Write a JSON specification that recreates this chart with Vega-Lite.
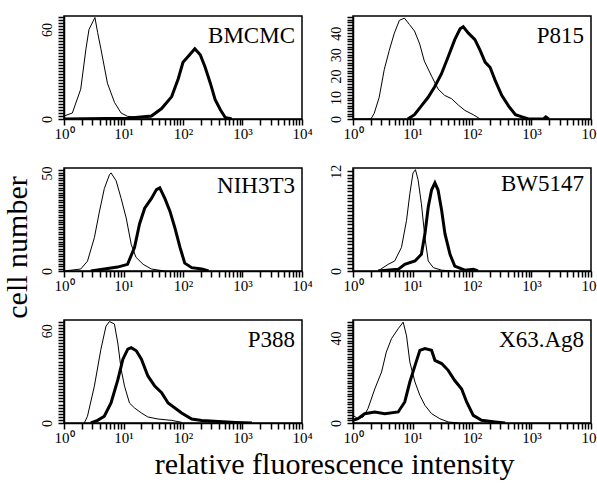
{
  "$schema": "https://vega.github.io/schema/vega-lite/v6.json",
  "background": "white",
  "padding": {"left": 3, "top": 15, "right": 5, "bottom": 5},
  "config": {
    "view": {"stroke": "black", "strokeWidth": 1.5},
    "axis": {"grid": false, "domainColor": "black", "domainWidth": 1.5, "ticks": true, "tickSize": 6, "tickColor": "black", "tickWidth": 1.5, "tickOpacity": 1, "labelColor": "black", "labelFont": "Liberation Serif", "title": null},
    "axisX": {"labelFontSize": 15, "labelPadding": 1, "labelFlush": false, "labelOverlap": false},
    "axisY": {"labelFontSize": 14, "labelAngle": 270, "labelAlign": "center", "labelBaseline": "bottom", "labelPadding": 4, "labelOverlap": false},
    "title": {"font": "Liberation Serif", "fontWeight": "normal", "color": "black"}
  },
  "datasets": {
    "bmcmc": [
      {"x": 1.0, "y": 2, "s": "control"}, {"x": 1.38, "y": 4, "s": "control"}, {"x": 1.91, "y": 20, "s": "control"}, {"x": 2.34, "y": 47, "s": "control"}, {"x": 2.63, "y": 60, "s": "control"}, {"x": 3.31, "y": 68, "s": "control"}, {"x": 3.67, "y": 58, "s": "control"}, {"x": 4.17, "y": 47, "s": "control"}, {"x": 5.37, "y": 24, "s": "control"}, {"x": 7.08, "y": 11, "s": "control"}, {"x": 9.12, "y": 4, "s": "control"}, {"x": 11.7, "y": 1.8, "s": "control"}, {"x": 20, "y": 1, "s": "control"}, {"x": 29.5, "y": 0.5, "s": "control"},
      {"x": 1.0, "y": 0, "s": "stained"}, {"x": 11.7, "y": 0.5, "s": "stained"}, {"x": 29.5, "y": 2, "s": "stained"}, {"x": 43.7, "y": 7, "s": "stained"}, {"x": 64.6, "y": 15, "s": "stained"}, {"x": 83.2, "y": 27, "s": "stained"}, {"x": 100, "y": 38, "s": "stained"}, {"x": 123, "y": 42, "s": "stained"}, {"x": 158, "y": 47, "s": "stained"}, {"x": 195, "y": 43, "s": "stained"}, {"x": 234, "y": 35, "s": "stained"}, {"x": 288, "y": 24, "s": "stained"}, {"x": 347, "y": 13, "s": "stained"}, {"x": 427, "y": 6, "s": "stained"}, {"x": 513, "y": 1, "s": "stained"}, {"x": 661, "y": 0, "s": "stained"}
    ],
    "p815": [
      {"x": 1.0, "y": 0, "s": "control"}, {"x": 2.0, "y": 0, "s": "control"}, {"x": 2.27, "y": 2.6, "s": "control"}, {"x": 2.75, "y": 10, "s": "control"}, {"x": 3.35, "y": 23, "s": "control"}, {"x": 4.07, "y": 32, "s": "control"}, {"x": 4.95, "y": 40, "s": "control"}, {"x": 6.03, "y": 46, "s": "control"}, {"x": 7.31, "y": 47, "s": "control"}, {"x": 8.91, "y": 44, "s": "control"}, {"x": 10.8, "y": 41, "s": "control"}, {"x": 13.2, "y": 35, "s": "control"}, {"x": 15.8, "y": 27, "s": "control"}, {"x": 20.9, "y": 20, "s": "control"}, {"x": 26.9, "y": 14, "s": "control"}, {"x": 34.7, "y": 11, "s": "control"}, {"x": 45.2, "y": 9.5, "s": "control"}, {"x": 58.9, "y": 6.5, "s": "control"}, {"x": 75.9, "y": 4, "s": "control"}, {"x": 105, "y": 2, "s": "control"}, {"x": 138, "y": 0, "s": "control"},
      {"x": 8.32, "y": 0, "s": "stained"}, {"x": 10.8, "y": 2, "s": "stained"}, {"x": 14.0, "y": 6, "s": "stained"}, {"x": 18.2, "y": 10, "s": "stained"}, {"x": 23.6, "y": 15, "s": "stained"}, {"x": 30.6, "y": 21, "s": "stained"}, {"x": 39.8, "y": 29, "s": "stained"}, {"x": 51.3, "y": 37, "s": "stained"}, {"x": 63.1, "y": 42, "s": "stained"}, {"x": 71.3, "y": 43, "s": "stained"}, {"x": 87.1, "y": 40, "s": "stained"}, {"x": 112, "y": 37, "s": "stained"}, {"x": 137, "y": 32, "s": "stained"}, {"x": 166, "y": 26.5, "s": "stained"}, {"x": 202, "y": 24, "s": "stained"}, {"x": 245, "y": 18, "s": "stained"}, {"x": 316, "y": 11, "s": "stained"}, {"x": 413, "y": 6, "s": "stained"}, {"x": 537, "y": 2, "s": "stained"}, {"x": 692, "y": 1, "s": "stained"}, {"x": 891, "y": 0, "s": "stained"}, {"x": 1585, "y": 0, "s": "stained"}, {"x": 1738, "y": 1, "s": "stained"}, {"x": 1950, "y": 0, "s": "stained"}
    ],
    "nih3t3": [
      {"x": 1.0, "y": 0, "s": "control"}, {"x": 1.91, "y": 1, "s": "control"}, {"x": 2.48, "y": 5, "s": "control"}, {"x": 3.24, "y": 17, "s": "control"}, {"x": 3.92, "y": 30, "s": "control"}, {"x": 4.76, "y": 42, "s": "control"}, {"x": 5.79, "y": 49, "s": "control"}, {"x": 6.17, "y": 50, "s": "control"}, {"x": 7.52, "y": 46, "s": "control"}, {"x": 9.12, "y": 37, "s": "control"}, {"x": 11.1, "y": 27, "s": "control"}, {"x": 13.5, "y": 13.5, "s": "control"}, {"x": 16.2, "y": 7, "s": "control"}, {"x": 21.4, "y": 3.4, "s": "control"}, {"x": 29.5, "y": 1, "s": "control"}, {"x": 49, "y": 0, "s": "control"},
      {"x": 2.82, "y": 0, "s": "stained"}, {"x": 4.76, "y": 1, "s": "stained"}, {"x": 7.94, "y": 2, "s": "stained"}, {"x": 11.7, "y": 3.4, "s": "stained"}, {"x": 15.3, "y": 12, "s": "stained"}, {"x": 18.6, "y": 24, "s": "stained"}, {"x": 22.7, "y": 32, "s": "stained"}, {"x": 29.5, "y": 37, "s": "stained"}, {"x": 35.8, "y": 41.5, "s": "stained"}, {"x": 40.7, "y": 42.4, "s": "stained"}, {"x": 49.5, "y": 37, "s": "stained"}, {"x": 60.3, "y": 30.5, "s": "stained"}, {"x": 73.1, "y": 22, "s": "stained"}, {"x": 89.1, "y": 12, "s": "stained"}, {"x": 107, "y": 4, "s": "stained"}, {"x": 140, "y": 1.7, "s": "stained"}, {"x": 207, "y": 1, "s": "stained"}, {"x": 269, "y": 0, "s": "stained"}
    ],
    "bw5147": [
      {"x": 2.63, "y": 0, "s": "control"}, {"x": 3.89, "y": 0.8, "s": "control"}, {"x": 5.01, "y": 1.2, "s": "control"}, {"x": 6.53, "y": 2.85, "s": "control"}, {"x": 7.94, "y": 6.1, "s": "control"}, {"x": 9.02, "y": 9.3, "s": "control"}, {"x": 10.2, "y": 11.8, "s": "control"}, {"x": 11.2, "y": 12.2, "s": "control"}, {"x": 12.4, "y": 11, "s": "control"}, {"x": 14.1, "y": 8.1, "s": "control"}, {"x": 16.2, "y": 4, "s": "control"}, {"x": 18.4, "y": 1.2, "s": "control"}, {"x": 22.4, "y": 0.4, "s": "control"}, {"x": 30.9, "y": 0.1, "s": "control"}, {"x": 45.7, "y": 0, "s": "control"},
      {"x": 2.63, "y": 0, "s": "stained"}, {"x": 5.75, "y": 0.2, "s": "stained"}, {"x": 7.41, "y": 0.8, "s": "stained"}, {"x": 11.0, "y": 1.2, "s": "stained"}, {"x": 14.1, "y": 2, "s": "stained"}, {"x": 16.2, "y": 4.5, "s": "stained"}, {"x": 18.4, "y": 7.7, "s": "stained"}, {"x": 20.9, "y": 9.75, "s": "stained"}, {"x": 23.8, "y": 10.6, "s": "stained"}, {"x": 26.9, "y": 9.75, "s": "stained"}, {"x": 30.9, "y": 7.3, "s": "stained"}, {"x": 35.1, "y": 4.5, "s": "stained"}, {"x": 42.7, "y": 2, "s": "stained"}, {"x": 51.3, "y": 0.6, "s": "stained"}, {"x": 75.9, "y": 0.1, "s": "stained"}, {"x": 105, "y": 0.2, "s": "stained"}, {"x": 126, "y": 0, "s": "stained"}
    ],
    "p388": [
      {"x": 2.19, "y": 0, "s": "control"}, {"x": 2.48, "y": 4.4, "s": "control"}, {"x": 3.24, "y": 24, "s": "control"}, {"x": 4.17, "y": 48, "s": "control"}, {"x": 5.08, "y": 63, "s": "control"}, {"x": 5.79, "y": 66, "s": "control"}, {"x": 7.03, "y": 64.4, "s": "control"}, {"x": 8.02, "y": 52, "s": "control"}, {"x": 9.12, "y": 35, "s": "control"}, {"x": 10.4, "y": 24, "s": "control"}, {"x": 12.6, "y": 13, "s": "control"}, {"x": 15.3, "y": 9.8, "s": "control"}, {"x": 20, "y": 6.5, "s": "control"}, {"x": 25.7, "y": 3.9, "s": "control"}, {"x": 38, "y": 2.6, "s": "control"}, {"x": 64.6, "y": 1.7, "s": "control"}, {"x": 95.5, "y": 0.4, "s": "control"},
      {"x": 2.83, "y": 0, "s": "stained"}, {"x": 3.67, "y": 1.7, "s": "stained"}, {"x": 4.76, "y": 4.4, "s": "stained"}, {"x": 6.17, "y": 13, "s": "stained"}, {"x": 8.02, "y": 28, "s": "stained"}, {"x": 9.77, "y": 41.5, "s": "stained"}, {"x": 11.8, "y": 48, "s": "stained"}, {"x": 13.5, "y": 49, "s": "stained"}, {"x": 16.4, "y": 47, "s": "stained"}, {"x": 20, "y": 41.5, "s": "stained"}, {"x": 25.7, "y": 30.6, "s": "stained"}, {"x": 33.5, "y": 24, "s": "stained"}, {"x": 43.7, "y": 19.7, "s": "stained"}, {"x": 56.2, "y": 13, "s": "stained"}, {"x": 73.1, "y": 9.8, "s": "stained"}, {"x": 94.8, "y": 6.5, "s": "stained"}, {"x": 140, "y": 2.6, "s": "stained"}, {"x": 207, "y": 1.7, "s": "stained"}, {"x": 398, "y": 1, "s": "stained"}, {"x": 759, "y": 0.4, "s": "stained"}, {"x": 1445, "y": 0, "s": "stained"}
    ],
    "x63": [
      {"x": 1.0, "y": 3.6, "s": "control"}, {"x": 1.21, "y": 2, "s": "control"}, {"x": 1.48, "y": 2.8, "s": "control"}, {"x": 1.78, "y": 6.7, "s": "control"}, {"x": 2.32, "y": 16, "s": "control"}, {"x": 3.02, "y": 24, "s": "control"}, {"x": 3.63, "y": 33.4, "s": "control"}, {"x": 4.43, "y": 39.7, "s": "control"}, {"x": 5.75, "y": 44.4, "s": "control"}, {"x": 6.97, "y": 47.5, "s": "control"}, {"x": 7.94, "y": 41, "s": "control"}, {"x": 9.02, "y": 28.7, "s": "control"}, {"x": 11.0, "y": 19.3, "s": "control"}, {"x": 13.3, "y": 13, "s": "control"}, {"x": 16.2, "y": 8.3, "s": "control"}, {"x": 20.9, "y": 4.4, "s": "control"}, {"x": 28.8, "y": 2, "s": "control"}, {"x": 39.8, "y": 0.5, "s": "control"}, {"x": 58.9, "y": 0, "s": "control"},
      {"x": 1.0, "y": 1.3, "s": "stained"}, {"x": 1.21, "y": 2, "s": "stained"}, {"x": 1.57, "y": 4.4, "s": "stained"}, {"x": 2.32, "y": 5.2, "s": "stained"}, {"x": 3.42, "y": 4.4, "s": "stained"}, {"x": 5.75, "y": 5.2, "s": "stained"}, {"x": 7.41, "y": 9.9, "s": "stained"}, {"x": 9.02, "y": 19.3, "s": "stained"}, {"x": 11.0, "y": 27, "s": "stained"}, {"x": 13.3, "y": 34.2, "s": "stained"}, {"x": 16.2, "y": 35, "s": "stained"}, {"x": 20.9, "y": 34.2, "s": "stained"}, {"x": 23.8, "y": 29.5, "s": "stained"}, {"x": 30.9, "y": 28, "s": "stained"}, {"x": 39.8, "y": 24.8, "s": "stained"}, {"x": 51.3, "y": 20, "s": "stained"}, {"x": 67, "y": 16, "s": "stained"}, {"x": 81.3, "y": 9.9, "s": "stained"}, {"x": 105, "y": 3.6, "s": "stained"}, {"x": 145, "y": 1.3, "s": "stained"}, {"x": 245, "y": 0.5, "s": "stained"}, {"x": 360, "y": 0, "s": "stained"}
    ]
  },
  "title": {"text": "cell number", "orient": "left", "anchor": "middle", "fontSize": 30, "offset": 6},
  "vconcat": [
    {
      "title": {"text": "relative fluorescence intensity", "orient": "bottom", "anchor": "middle", "fontSize": 30, "offset": 4, "dx": 14},
      "columns": 2,
      "spacing": {"row": 49, "column": 51},
      "bounds": "flush",
      "concat": [
        {
          "width": 238, "height": 103,
          "data": {"name": "bmcmc"},
          "title": {"text": "BMCMC", "anchor": "end", "frame": "group", "orient": "top", "baseline": "top", "offset": -32, "dx": -7, "fontSize": 23},
          "mark": {"type": "line", "color": "black", "clip": true},
          "encoding": {
            "x": {"field": "x", "type": "quantitative", "scale": {"type": "log", "domain": [1, 10000]}, "axis": {"values": [1,2,3,4,5,6,7,8,9,10,20,30,40,50,60,70,80,90,100,200,300,400,500,600,700,800,900,1000,2000,3000,4000,5000,6000,7000,8000,9000,10000], "labelExpr": "indexof([1,10,100,1000,10000], datum.value) >= 0 ? '10' + ['⁰','¹','²','³','⁴'][round(log(datum.value)/LN10)] : ''"}},
            "y": {"field": "y", "type": "quantitative", "scale": {"domain": [0, 69], "nice": false}, "axis": {"values": [0,2,4,6,8,10,12,14,16,18,20,22,24,26,28,30,32,34,36,38,40,42,44,46,48,50,52,54,56,58,60,62,64,66,68], "labelExpr": "indexof([0,60], datum.value) >= 0 ? '' + datum.value : ''"}},
            "detail": {"field": "s"},
            "strokeWidth": {"field": "s", "type": "ordinal", "scale": {"domain": ["control", "stained"], "range": [1, 3]}, "legend": null}
          }
        },
        {
          "width": 238, "height": 103,
          "data": {"name": "p815"},
          "title": {"text": "P815", "anchor": "end", "frame": "group", "orient": "top", "baseline": "top", "offset": -32, "dx": -7, "fontSize": 23},
          "mark": {"type": "line", "color": "black", "clip": true},
          "encoding": {
            "x": {"field": "x", "type": "quantitative", "scale": {"type": "log", "domain": [1, 10000]}, "axis": {"values": [1,2,3,4,5,6,7,8,9,10,20,30,40,50,60,70,80,90,100,200,300,400,500,600,700,800,900,1000,2000,3000,4000,5000,6000,7000,8000,9000,10000], "labelExpr": "indexof([1,10,100,1000,10000], datum.value) >= 0 ? '10' + ['⁰','¹','²','³','⁴'][round(log(datum.value)/LN10)] : ''"}},
            "y": {"field": "y", "type": "quantitative", "scale": {"domain": [0, 48], "nice": false}, "axis": {"values": [0,1.25,2.5,3.75,5,6.25,7.5,8.75,10,11.25,12.5,13.75,15,16.25,17.5,18.75,20,21.25,22.5,23.75,25,26.25,27.5,28.75,30,31.25,32.5,33.75,35,36.25,37.5,38.75,40,41.25,42.5,43.75,45,46.25,47.5], "labelExpr": "indexof([0,10,20,30,40], datum.value) >= 0 ? '' + datum.value : ''"}},
            "detail": {"field": "s"},
            "strokeWidth": {"field": "s", "type": "ordinal", "scale": {"domain": ["control", "stained"], "range": [1, 3]}, "legend": null}
          }
        },
        {
          "width": 238, "height": 103,
          "data": {"name": "nih3t3"},
          "title": {"text": "NIH3T3", "anchor": "end", "frame": "group", "orient": "top", "baseline": "top", "offset": -32, "dx": -7, "fontSize": 23},
          "mark": {"type": "line", "color": "black", "clip": true},
          "encoding": {
            "x": {"field": "x", "type": "quantitative", "scale": {"type": "log", "domain": [1, 10000]}, "axis": {"values": [1,2,3,4,5,6,7,8,9,10,20,30,40,50,60,70,80,90,100,200,300,400,500,600,700,800,900,1000,2000,3000,4000,5000,6000,7000,8000,9000,10000], "labelExpr": "indexof([1,10,100,1000,10000], datum.value) >= 0 ? '10' + ['⁰','¹','²','³','⁴'][round(log(datum.value)/LN10)] : ''"}},
            "y": {"field": "y", "type": "quantitative", "scale": {"domain": [0, 52.5], "nice": false}, "axis": {"values": [0,1.25,2.5,3.75,5,6.25,7.5,8.75,10,11.25,12.5,13.75,15,16.25,17.5,18.75,20,21.25,22.5,23.75,25,26.25,27.5,28.75,30,31.25,32.5,33.75,35,36.25,37.5,38.75,40,41.25,42.5,43.75,45,46.25,47.5,48.75,50,51.25], "labelExpr": "indexof([0,50], datum.value) >= 0 ? '' + datum.value : ''"}},
            "detail": {"field": "s"},
            "strokeWidth": {"field": "s", "type": "ordinal", "scale": {"domain": ["control", "stained"], "range": [1, 3]}, "legend": null}
          }
        },
        {
          "width": 238, "height": 103,
          "data": {"name": "bw5147"},
          "title": {"text": "BW5147", "anchor": "end", "frame": "group", "orient": "top", "baseline": "top", "offset": -32, "dx": -7, "fontSize": 23},
          "mark": {"type": "line", "color": "black", "clip": true},
          "encoding": {
            "x": {"field": "x", "type": "quantitative", "scale": {"type": "log", "domain": [1, 10000]}, "axis": {"values": [1,2,3,4,5,6,7,8,9,10,20,30,40,50,60,70,80,90,100,200,300,400,500,600,700,800,900,1000,2000,3000,4000,5000,6000,7000,8000,9000,10000], "labelExpr": "indexof([1,10,100,1000,10000], datum.value) >= 0 ? '10' + ['⁰','¹','²','³','⁴'][round(log(datum.value)/LN10)] : ''"}},
            "y": {"field": "y", "type": "quantitative", "scale": {"domain": [0, 12.4], "nice": false}, "axis": {"values": [0,0.4,0.8,1.2,1.6,2,2.4,2.8,3.2,3.6,4,4.4,4.8,5.2,5.6,6,6.4,6.8,7.2,7.6,8,8.4,8.8,9.2,9.6,10,10.4,10.8,11.2,11.6,12], "labelExpr": "indexof([0,12], datum.value) >= 0 ? '' + datum.value : ''"}},
            "detail": {"field": "s"},
            "strokeWidth": {"field": "s", "type": "ordinal", "scale": {"domain": ["control", "stained"], "range": [1, 3]}, "legend": null}
          }
        },
        {
          "width": 238, "height": 103,
          "data": {"name": "p388"},
          "title": {"text": "P388", "anchor": "end", "frame": "group", "orient": "top", "baseline": "top", "offset": -32, "dx": -7, "fontSize": 23},
          "mark": {"type": "line", "color": "black", "clip": true},
          "encoding": {
            "x": {"field": "x", "type": "quantitative", "scale": {"type": "log", "domain": [1, 10000]}, "axis": {"values": [1,2,3,4,5,6,7,8,9,10,20,30,40,50,60,70,80,90,100,200,300,400,500,600,700,800,900,1000,2000,3000,4000,5000,6000,7000,8000,9000,10000], "labelExpr": "indexof([1,10,100,1000,10000], datum.value) >= 0 ? '10' + ['⁰','¹','²','³','⁴'][round(log(datum.value)/LN10)] : ''"}},
            "y": {"field": "y", "type": "quantitative", "scale": {"domain": [0, 67], "nice": false}, "axis": {"values": [0,2,4,6,8,10,12,14,16,18,20,22,24,26,28,30,32,34,36,38,40,42,44,46,48,50,52,54,56,58,60,62,64,66], "labelExpr": "indexof([0,60], datum.value) >= 0 ? '' + datum.value : ''"}},
            "detail": {"field": "s"},
            "strokeWidth": {"field": "s", "type": "ordinal", "scale": {"domain": ["control", "stained"], "range": [1, 3]}, "legend": null}
          }
        },
        {
          "width": 238, "height": 103,
          "data": {"name": "x63"},
          "title": {"text": "X63.Ag8", "anchor": "end", "frame": "group", "orient": "top", "baseline": "top", "offset": -32, "dx": -7, "fontSize": 23},
          "mark": {"type": "line", "color": "black", "clip": true},
          "encoding": {
            "x": {"field": "x", "type": "quantitative", "scale": {"type": "log", "domain": [1, 10000]}, "axis": {"values": [1,2,3,4,5,6,7,8,9,10,20,30,40,50,60,70,80,90,100,200,300,400,500,600,700,800,900,1000,2000,3000,4000,5000,6000,7000,8000,9000,10000], "labelExpr": "indexof([1,10,100,1000,10000], datum.value) >= 0 ? '10' + ['⁰','¹','²','³','⁴'][round(log(datum.value)/LN10)] : ''"}},
            "y": {"field": "y", "type": "quantitative", "scale": {"domain": [0, 48.5], "nice": false}, "axis": {"values": [0,1.25,2.5,3.75,5,6.25,7.5,8.75,10,11.25,12.5,13.75,15,16.25,17.5,18.75,20,21.25,22.5,23.75,25,26.25,27.5,28.75,30,31.25,32.5,33.75,35,36.25,37.5,38.75,40,41.25,42.5,43.75,45,46.25,47.5], "labelExpr": "indexof([0,40], datum.value) >= 0 ? '' + datum.value : ''"}},
            "detail": {"field": "s"},
            "strokeWidth": {"field": "s", "type": "ordinal", "scale": {"domain": ["control", "stained"], "range": [1, 3]}, "legend": null}
          }
        }
      ]
    }
  ]
}
